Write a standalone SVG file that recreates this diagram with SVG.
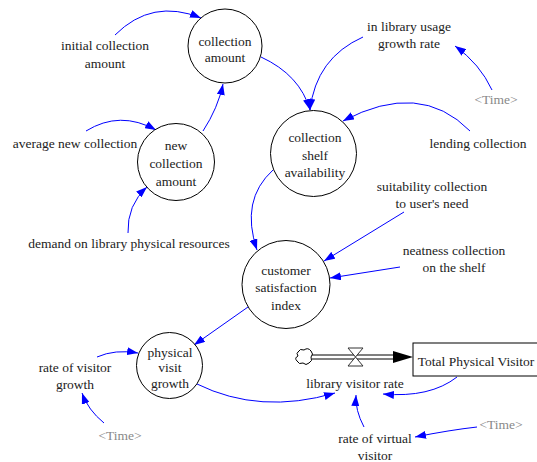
<svg xmlns="http://www.w3.org/2000/svg" width="537" height="462" viewBox="0 0 537 462" font-family="'Liberation Serif', 'Times New Roman', 'DejaVu Serif', serif">
<style>
text{font-family:'Liberation Serif','Times New Roman','DejaVu Serif',serif;font-size:13.5px;fill:#222;text-anchor:middle}
.g{fill:#888}
.node{fill:#fff;stroke:#000;stroke-width:1}
.link{fill:none;stroke:#0000ff;stroke-width:1;marker-end:url(#arr)}
</style>
<defs>
<marker id="arr" markerWidth="11" markerHeight="8" refX="11" refY="4" orient="auto" markerUnits="userSpaceOnUse"><path d="M0,0 L11,4 L0,8 z" fill="#0000ff"/></marker>
</defs>
<rect width="537" height="462" fill="#fff"/>
<g id="connectors">
<path class="link" d="M115,35 Q152,-2 201,18"/>
<path class="link" d="M86,131 Q120,110 156,130"/>
<path class="link" d="M128,233 Q127,205 147,187"/>
<path class="link" d="M203,131 Q218,108 223,84"/>
<path class="link" d="M261,57 Q300,75 310,110"/>
<path class="link" d="M363,37 Q316,58 310,110"/>
<path class="link" d="M492,90 Q480,64 455,46"/>
<path class="link" d="M470,131 Q420,80 343,121"/>
<path class="link" d="M273,170 Q240,200 257,250"/>
<path class="link" d="M404,212 L324,261"/>
<path class="link" d="M400,267 L330,278"/>
<path class="link" d="M248,307 L194,345"/>
<path class="link" d="M97,357 Q115,349 138,353"/>
<path class="link" d="M104,423 Q88,410 82,393"/>
<path class="link" d="M197,384 Q260,415 335,393"/>
<path class="link" d="M457,377 Q430,398 383,394"/>
<path class="link" d="M364,427 Q355,410 356,395"/>
<path class="link" d="M477,427 Q450,430 415,437"/>
</g>
<g id="flow-library-visitor-rate">
<path d="M298,352 q2,-4 6,-2 q4,-3 7,1 q3,3 0,6 q2,4 -2,6 q-3,3 -6,0 q-4,2 -6,-2 q-3,-3 1,-5 q-2,-3 0,-4 z" fill="#fff" stroke="#000" stroke-width="1"/>
<line x1="312" y1="355" x2="395" y2="355" stroke="#000" stroke-width="1"/>
<line x1="312" y1="359" x2="395" y2="359" stroke="#000" stroke-width="1"/>
<path d="M393,351 L413,357 L393,363 z" fill="#000"/>
<path d="M348,348 L363,348 L348,366 L363,366 z" fill="#fff" stroke="#333" stroke-width="1"/>
<text x="355" y="388">library visitor rate</text>
</g>
<g id="stock-total-physical-visitor">
<rect x="413" y="343" width="130" height="33" fill="#fff" stroke="#000" stroke-width="1"/>
<text x="476" y="365.5">Total Physical Visitor</text>
</g>
<g id="collection-amount">
<circle class="node" cx="225" cy="46" r="37"/>
<text x="225" y="45.5">collection</text>
<text x="225" y="62">amount</text>
</g>
<g id="new-collection-amount">
<circle class="node" cx="176" cy="162" r="38.5"/>
<text x="176" y="149.5">new</text>
<text x="176" y="167.5">collection</text>
<text x="176" y="186">amount</text>
</g>
<g id="collection-shelf-availability">
<circle class="node" cx="313.5" cy="153.5" r="43"/>
<text x="315" y="141.5">collection</text>
<text x="315" y="159.5">shelf</text>
<text x="315" y="176.5">availability</text>
</g>
<g id="customer-satisfaction-index">
<circle class="node" cx="286" cy="284.5" r="44"/>
<text x="286" y="274.5">customer</text>
<text x="286" y="291.5">satisfaction</text>
<text x="286" y="309.5">index</text>
</g>
<g id="physical-visit-growth">
<circle class="node" cx="169.5" cy="365.5" r="33"/>
<text x="170" y="356.5">physical</text>
<text x="170" y="371.5">visit</text>
<text x="170" y="387.5">growth</text>
</g>
<g id="initial-collection-amount">
<text x="105" y="49.5">initial collection</text>
<text x="105" y="67.5">amount</text>
</g>
<g id="average-new-collection"><text x="75" y="147.5">average new collection</text></g>
<g id="demand-on-library-physical-resources"><text x="129" y="247.5">demand on library physical resources</text></g>
<g id="in-library-usage-growth-rate">
<text x="409" y="30.5">in library usage</text>
<text x="409" y="47.5">growth rate</text>
</g>
<g id="time-1"><text class="g" x="496" y="103.5">&lt;Time&gt;</text></g>
<g id="lending-collection"><text x="478" y="147.5">lending collection</text></g>
<g id="suitability-collection">
<text x="432" y="190.5">suitability collection</text>
<text x="432" y="207.5">to user's need</text>
</g>
<g id="neatness-collection">
<text x="454" y="254.5">neatness collection</text>
<text x="454" y="271.5">on the shelf</text>
</g>
<g id="rate-of-visitor-growth">
<text x="75" y="371.5">rate of visitor</text>
<text x="75" y="388.5">growth</text>
</g>
<g id="time-2"><text class="g" x="120" y="439.5">&lt;Time&gt;</text></g>
<g id="rate-of-virtual-visitor">
<text x="375" y="442.5">rate of virtual</text>
<text x="375" y="460">visitor</text>
</g>
<g id="time-3"><text class="g" x="501" y="428.5">&lt;Time&gt;</text></g>
</svg>
